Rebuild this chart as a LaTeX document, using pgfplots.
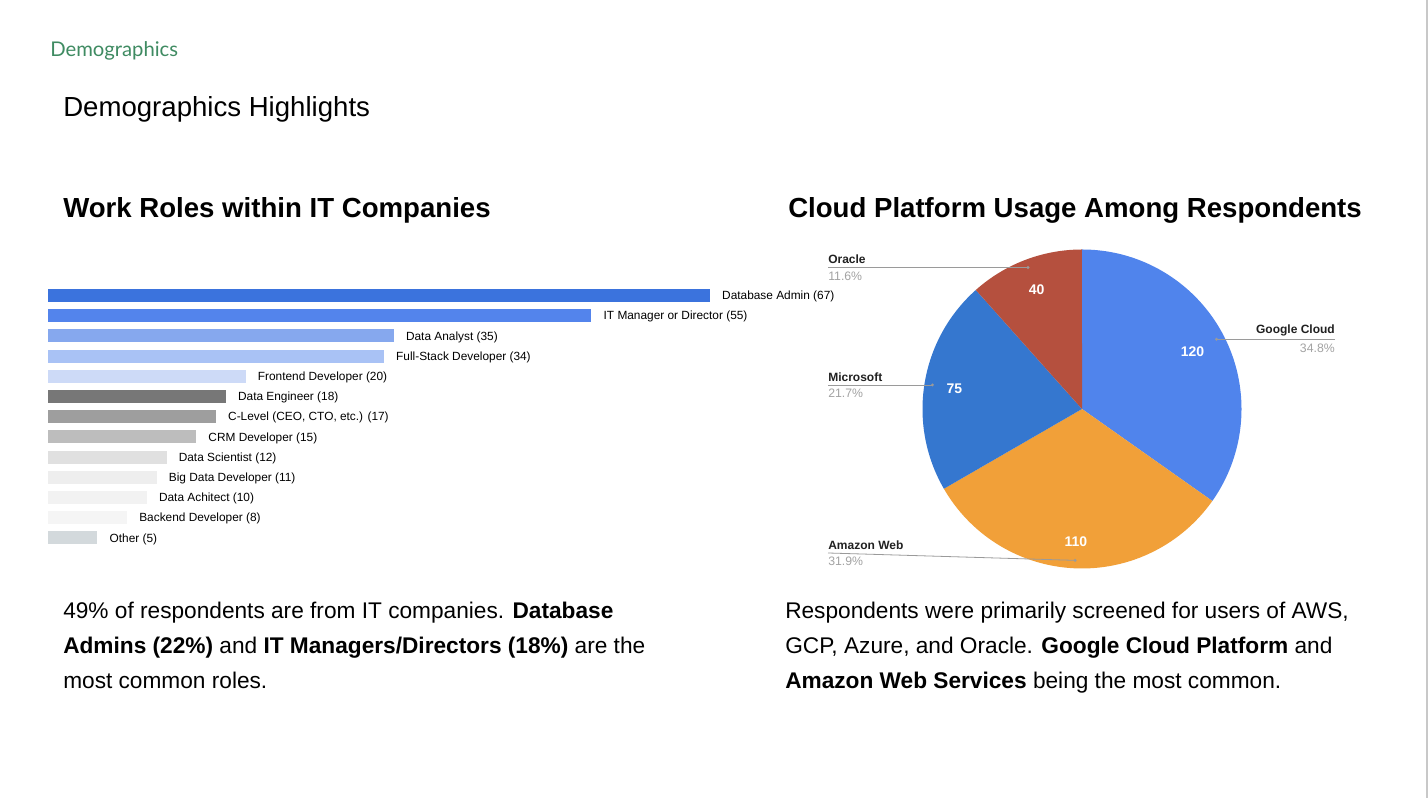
\documentclass[border=0pt]{standalone}
\usepackage{pgfplots}
\pgfplotsset{compat=1.18}
\usepackage{pgfplotstable}
\usepackage{fontspec}
\setmainfont{Liberation Sans}
\newfontfamily\headfont{Lato}

\definecolor{bA}{HTML}{3B73DD}
\definecolor{bB}{HTML}{5384EC}
\definecolor{bC}{HTML}{86A8EE}
\definecolor{bD}{HTML}{A9C2F5}
\definecolor{bE}{HTML}{CDDAF7}
\definecolor{bF}{HTML}{777777}
\definecolor{bG}{HTML}{9E9E9E}
\definecolor{bH}{HTML}{BDBDBD}
\definecolor{bI}{HTML}{E0E0E0}
\definecolor{bJ}{HTML}{EEEEEE}
\definecolor{bK}{HTML}{F2F2F2}
\definecolor{bL}{HTML}{F5F5F5}
\definecolor{bM}{HTML}{D3D9DC}
\definecolor{cGoogle}{HTML}{5084EC}
\definecolor{cAmazon}{HTML}{F1A039}
\definecolor{cMicrosoft}{HTML}{3577CF}
\definecolor{cOracle}{HTML}{B5503E}
\definecolor{greenhead}{HTML}{3F8B62}
\definecolor{leader}{HTML}{9A9A9A}
\definecolor{pctgray}{HTML}{A3A3A3}
\definecolor{labdark}{HTML}{212121}

\pgfplotstableread{
platform value
Google 120
Amazon 110
Microsoft 75
Oracle 40
}\cloudtable

\pgfplotstablegetelem{0}{value}\of\cloudtable \edef\vA{\pgfplotsretval}
\pgfplotstablegetelem{1}{value}\of\cloudtable \edef\vB{\pgfplotsretval}
\pgfplotstablegetelem{2}{value}\of\cloudtable \edef\vC{\pgfplotsretval}
\pgfplotstablegetelem{3}{value}\of\cloudtable \edef\vD{\pgfplotsretval}
\pgfmathsetmacro\total{\vA+\vB+\vC+\vD}
\pgfmathsetmacro\aA{90}
\pgfmathsetmacro\aB{\aA-360*(\vA/\total)}
\pgfmathsetmacro\aC{\aB-360*(\vB/\total)}
\pgfmathsetmacro\aD{\aC-360*(\vC/\total)}
\pgfmathsetmacro\aE{\aD-360*(\vD/\total)}
\pgfmathsetmacro\mA{(\aA+\aB)/2}
\pgfmathsetmacro\mB{(\aB+\aC)/2}
\pgfmathsetmacro\mC{(\aC+\aD)/2}
\pgfmathsetmacro\mD{(\aD+\aE)/2}
\def\R{159.5}
\pgfmathsetmacro\RL{0.8*\R}
\pgfmathsetmacro\RD{0.95*\R}
\pgfmathsetmacro\yA{\RD*sin(\mA)}
\pgfmathsetmacro\yC{\RD*sin(\mC)}
\pgfmathsetmacro\yD{\RD*sin(\mD)}

\tikzset{mybar/.style={xbar, bar width=9.75pt, bar shift=0pt, draw=none}}

\begin{document}
\begin{tikzpicture}[x=0.75pt, y=0.75pt]
\fill[white] (0,0) rectangle (1428,798);
\useasboundingbox (0,0) rectangle (1428,798);
\fill[color={rgb,255:red,200;green,200;blue,200}] (1426,0) rectangle (1428,798);

% headings
\node[anchor=base west, inner sep=0, text=greenhead, font=\headfont\fontsize{15.2}{18}\selectfont] at (50,741) {Demographics};
\node[anchor=base west, inner sep=0, font=\fontsize{20.7}{24}\selectfont] at (63,681) {Demographics Highlights};
\node[anchor=base west, inner sep=0, font=\bfseries\fontsize{20.7}{24}\selectfont] at (63,580) {Work Roles within IT Companies};
\node[anchor=base west, inner sep=0, font=\bfseries\fontsize{20.7}{24}\selectfont] at (788,580) {Cloud Platform Usage Among Respondents};

% body text
\begin{scope}[every node/.style={anchor=base west, inner sep=0, font=\fontsize{17}{20}\selectfont}]
\node at (63,179) {49\% of respondents are from IT companies. \textbf{Database}};
\node at (63,144) {\textbf{Admins (22\%)} and \textbf{IT Managers/Directors (18\%)} are the};
\node at (63,109) {most common roles.};
\node at (785,179) {Respondents were primarily screened for users of AWS,};
\node at (785,144) {GCP, Azure, and Oracle. \textbf{Google Cloud Platform} and};
\node at (785,109) {\textbf{Amazon Web Services} being the most common.};
\end{scope}

% bar chart
\begin{axis}[
  at={(36pt,384.45pt)}, anchor=north west,
  x=7.41pt, y=15.15pt, y dir=reverse,
  xmin=0, xmax=67, ymin=-0.5, ymax=12.5,
  hide axis, clip=false,
  point meta=explicit symbolic,
  nodes near coords,
  every node near coord/.append style={anchor=west, inner sep=0pt, xshift=9pt, yshift=-0.8pt, text=black, font=\fontsize{8.9}{10}\selectfont},
]
\addplot[mybar, fill=bA] coordinates {(67,0) [Database Admin (67)]};
\addplot[mybar, fill=bB] coordinates {(55,1) [IT Manager or Director (55)]};
\addplot[mybar, fill=bC] coordinates {(35,2) [Data Analyst (35)]};
\addplot[mybar, fill=bD] coordinates {(34,3) [Full-Stack Developer (34)]};
\addplot[mybar, fill=bE] coordinates {(20,4) [Frontend Developer (20)]};
\addplot[mybar, fill=bF] coordinates {(18,5) [Data Engineer (18)]};
\addplot[mybar, fill=bG] coordinates {(17,6) [{C-Level (CEO, CTO, etc.) (17)}]};
\addplot[mybar, fill=bH] coordinates {(15,7) [CRM Developer (15)]};
\addplot[mybar, fill=bI] coordinates {(12,8) [Data Scientist (12)]};
\addplot[mybar, fill=bJ] coordinates {(11,9) [Big Data Developer (11)]};
\addplot[mybar, fill=bK] coordinates {(10,10) [Data Achitect (10)]};
\addplot[mybar, fill=bL] coordinates {(8,11) [Backend Developer (8)]};
\addplot[mybar, fill=bM] coordinates {(5,12) [Other (5)]};
\end{axis}

% pie chart
\begin{axis}[
  at={(811.5pt,291.75pt)}, anchor=center,
  x=0.75pt, y=0.75pt,
  xmin=-170, xmax=170, ymin=-170, ymax=170,
  hide axis, clip=false,
]
\fill[cGoogle] (axis cs:0,0) -- (axis cs:{\R*cos(\aA)},{\R*sin(\aA)}) arc[start angle=\aA, end angle=\aB, radius=119.625pt] -- cycle;
\fill[cAmazon] (axis cs:0,0) -- (axis cs:{\R*cos(\aB)},{\R*sin(\aB)}) arc[start angle=\aB, end angle=\aC, radius=119.625pt] -- cycle;
\fill[cMicrosoft] (axis cs:0,0) -- (axis cs:{\R*cos(\aC)},{\R*sin(\aC)}) arc[start angle=\aC, end angle=\aD, radius=119.625pt] -- cycle;
\fill[cOracle] (axis cs:0,0) -- (axis cs:{\R*cos(\aD)},{\R*sin(\aD)}) arc[start angle=\aD, end angle=\aE, radius=119.625pt] -- cycle;
% values inside
\node[text=white, font=\bfseries\fontsize{10.5}{12}\selectfont] at (axis cs:{0.78*\R*cos(\mA)},{0.78*\R*sin(\mA)}) {\vA};
\node[text=white, font=\bfseries\fontsize{10.5}{12}\selectfont] at (axis cs:{0.83*\R*cos(\mB)},{0.83*\R*sin(\mB)}) {\vB};
\node[text=white, font=\bfseries\fontsize{10.5}{12}\selectfont] at (axis cs:{0.81*\R*cos(\mC)},{0.81*\R*sin(\mC)}) {\vC};
\node[text=white, font=\bfseries\fontsize{10.5}{12}\selectfont] at (axis cs:{\RL*cos(\mD)},{\RL*sin(\mD)}) {\vD};
% leaders
\draw[leader, line width=0.6pt] (axis cs:{\RD*cos(\mA)},\yA) -- (axis cs:253,\yA);
\fill[leader] (axis cs:{\RD*cos(\mA)},\yA) circle[radius=1.2pt];
\node[anchor=south east, inner sep=0, yshift=2.5pt, font=\bfseries\fontsize{9}{10}\selectfont, text=labdark] at (axis cs:253,\yA) {Google Cloud};
\node[anchor=north east, inner sep=0, yshift=-3pt, font=\fontsize{9.2}{10}\selectfont, text=pctgray] at (axis cs:253,\yA) {34.8\%};

\draw[leader, line width=0.6pt] (axis cs:{\RD*cos(\mC)},\yC) -- (axis cs:-254,\yC);
\fill[leader] (axis cs:{\RD*cos(\mC)},\yC) circle[radius=1.2pt];
\node[anchor=south west, inner sep=0, yshift=2.5pt, font=\bfseries\fontsize{9}{10}\selectfont, text=labdark] at (axis cs:-254,\yC) {Microsoft};
\node[anchor=north west, inner sep=0, yshift=-3pt, font=\fontsize{9.2}{10}\selectfont, text=pctgray] at (axis cs:-254,\yC) {21.7\%};

\draw[leader, line width=0.6pt] (axis cs:{\RD*cos(\mD)},\yD) -- (axis cs:-254,\yD);
\fill[leader] (axis cs:{\RD*cos(\mD)},\yD) circle[radius=1.2pt];
\node[anchor=south west, inner sep=0, yshift=2.5pt, font=\bfseries\fontsize{9}{10}\selectfont, text=labdark] at (axis cs:-254,\yD) {Oracle};
\node[anchor=north west, inner sep=0, yshift=-3pt, font=\fontsize{9.2}{10}\selectfont, text=pctgray] at (axis cs:-254,\yD) {11.6\%};

\draw[leader, line width=0.6pt] (axis cs:{\RD*cos(\mB)},{\RD*sin(\mB)}) -- (axis cs:-254,-144);
\fill[leader] (axis cs:{\RD*cos(\mB)},{\RD*sin(\mB)}) circle[radius=1.2pt];
\node[anchor=south west, inner sep=0, yshift=2.5pt, font=\bfseries\fontsize{9}{10}\selectfont, text=labdark] at (axis cs:-254,-144) {Amazon Web};
\node[anchor=north west, inner sep=0, yshift=-3pt, font=\fontsize{9.2}{10}\selectfont, text=pctgray] at (axis cs:-254,-144) {31.9\%};
\end{axis}
\end{tikzpicture}
\end{document}
